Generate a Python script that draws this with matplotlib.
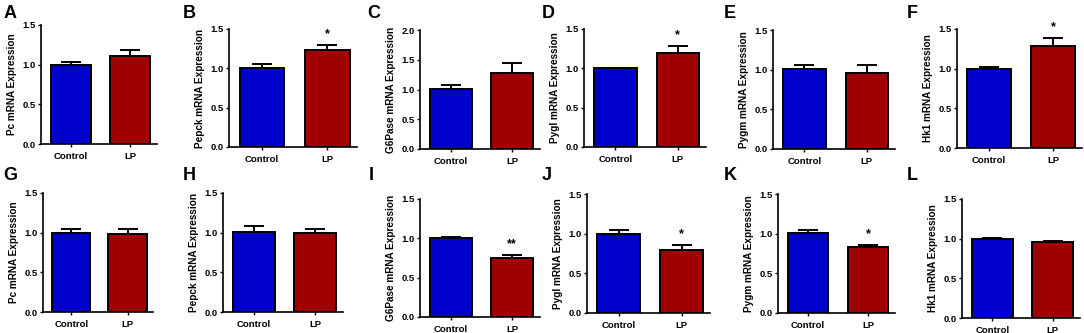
import matplotlib
matplotlib.use("Agg")
import matplotlib.pyplot as plt

plt.rcParams['font.family'] = ['Liberation Sans', 'DejaVu Sans']
plt.rcParams['font.weight'] = 'bold'

groups = ['Control', 'LP']
letters = ['A', 'B', 'C', 'D', 'E', 'F', 'G', 'H', 'I', 'J', 'K', 'L']
genes = ['Pc', 'Pepck', 'G6Pase', 'Pygl', 'Pygm', 'Hk1',
         'Pc', 'Pepck', 'G6Pase', 'Pygl', 'Pygm', 'Hk1']
control_mean = [1.00, 1.01, 1.01, 1.00, 1.01, 1.00,
                1.00, 1.01, 1.00, 1.00, 1.01, 1.00]
control_sem = [0.03, 0.05, 0.06, 0.01, 0.05, 0.02,
               0.04, 0.08, 0.02, 0.04, 0.04, 0.01]
lp_mean = [1.11, 1.23, 1.27, 1.20, 0.96, 1.28,
           0.98, 0.99, 0.75, 0.79, 0.83, 0.96]
lp_sem = [0.07, 0.07, 0.17, 0.08, 0.10, 0.11,
          0.07, 0.05, 0.04, 0.07, 0.03, 0.01]
stars = ['', '*', '', '*', '', '*', '', '', '**', '*', '*', '']
ymax = [1.5, 1.5, 2.0, 1.5, 1.5, 1.5, 1.5, 1.5, 1.5, 1.5, 1.5, 1.5]

# axes boxes in pixels: left, right, top, bottom
boxes = [(41, 157, 25, 144), (229, 357, 29, 147), (420, 540, 30, 149),
         (584, 706, 29, 147), (773, 895, 30, 149), (957, 1082, 29, 148),
         (43, 153, 193, 312), (223, 343, 193, 312), (420, 540, 199, 317),
         (587, 710, 194, 313), (778, 895, 194, 313), (962, 1080, 199, 318)]
letter_pos = [(4, 13), (183, 13), (367, 13), (542, 13), (724, 13), (907, 13),
              (3, 175), (183, 175), (369, 175), (542, 175), (724, 175), (907, 175)]

W, H = 1084, 333
fig = plt.figure(figsize=(W / 100, H / 100), dpi=100)

colors = ['#0000CC', '#A00000']

for i in range(12):
    l, r, t, b = boxes[i]
    ax = fig.add_axes([l / W, 1 - b / H, (r - l) / W, (b - t) / H])
    means = [control_mean[i], lp_mean[i]]
    sems = [control_sem[i], lp_sem[i]]
    ax.bar([0, 1], means, width=0.68, color=colors, edgecolor='black',
           linewidth=1.4, zorder=2)
    ax.errorbar([0, 1], means, yerr=[[0, 0], sems], fmt='none',
                ecolor='black', elinewidth=1.4, capsize=7, capthick=1.4,
                zorder=1)
    if stars[i]:
        ax.text(1, means[1] + sems[1] + 0.04 * ymax[i], stars[i],
                ha='center', va='bottom', fontsize=9, fontweight='bold')
    ax.set_xlim(-0.5, 1.45)
    ax.set_ylim(0, ymax[i])
    ax.set_yticks([k * 0.5 for k in range(int(ymax[i] / 0.5) + 1)])
    ax.set_yticklabels(['%.1f' % (k * 0.5) for k in range(int(ymax[i] / 0.5) + 1)])
    ax.set_xticks([0, 1])
    ax.set_xticklabels(groups)
    ax.spines['top'].set_visible(False)
    ax.spines['right'].set_visible(False)
    ax.spines['left'].set_linewidth(1.2)
    ax.spines['bottom'].set_linewidth(1.2)
    ax.tick_params(labelsize=6.8, width=1.0, length=2.5, pad=1.5)
    ax.tick_params(axis='x', pad=3)
    for lab in ax.get_xticklabels() + ax.get_yticklabels():
        lab.set_fontweight('bold')
    ax.set_ylabel(genes[i] + ' mRNA Expression', fontsize=7.2,
                  fontweight='bold', labelpad=4)
    fig.text(letter_pos[i][0] / W, 1 - letter_pos[i][1] / H, letters[i],
             fontsize=13, fontweight='bold', va='center', ha='left')

fig.savefig('out.png', dpi=100)
